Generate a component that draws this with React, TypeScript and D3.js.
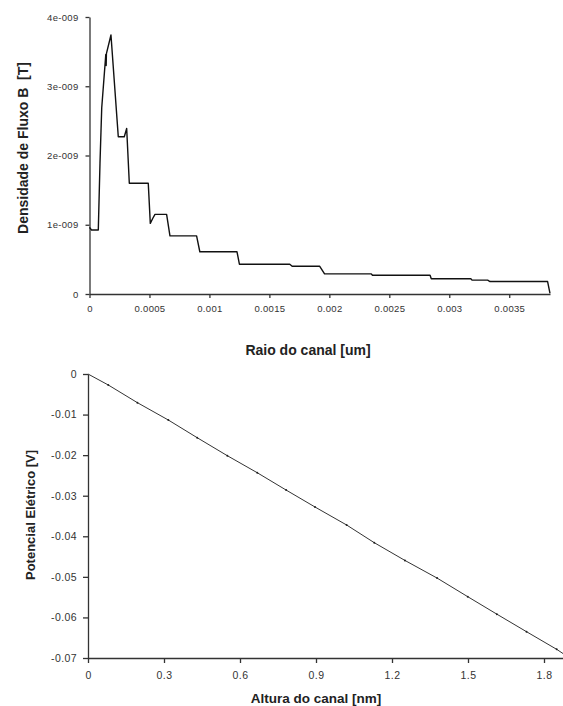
import React, { useEffect, useRef } from "react";
import * as d3 from "d3";

// top chart: flux density along the channel radius
const raio = [
  0, 0.0000167, 0.0000733, 0.0000875, 0.000102, 0.000136, 0.000139, 0.000141,
  0.000179, 0.00024, 0.00029, 0.00031, 0.000332, 0.00049, 0.000507, 0.000527,
  0.000546, 0.000643, 0.000671, 0.000893, 0.00092, 0.00123, 0.00125, 0.00167,
  0.00169, 0.00192, 0.00196, 0.00235, 0.00236, 0.00284, 0.00285, 0.00318,
  0.00319, 0.00332, 0.00334, 0.00382, 0.00384,
];
const fluxo = [
  0.963, 0.924, 0.924, 1.89, 2.69, 3.46, 3.3, 3.47, 3.74, 2.27, 2.27, 2.39,
  1.6, 1.6, 1.02, 1.09, 1.15, 1.15, 0.84, 0.84, 0.61, 0.61, 0.43, 0.43, 0.4,
  0.4, 0.29, 0.29, 0.27, 0.27, 0.22, 0.22, 0.2, 0.2, 0.18, 0.18, 0.01,
]; // x 1e-9 T
const fluxoTicks = [0, 1e-9, 2e-9, 3e-9, 4e-9];
const fluxoTickLabels = ["0", "1e-009", "2e-009", "3e-009", "4e-009"];
const raioTicks = [0, 0.0005, 0.001, 0.0015, 0.002, 0.0025, 0.003, 0.0035];
const raioTickLabels = ["0", "0.0005", "0.001", "0.0015", "0.002", "0.0025", "0.003", "0.0035"];

// bottom chart: electric potential along the channel height
const altura = [
  0, 0.08, 0.195, 0.317, 0.431, 0.55, 0.668, 0.782, 0.896, 1.021, 1.13, 1.251,
  1.378, 1.499, 1.614, 1.731, 1.85, 1.875,
];
const potencial = [
  0, -0.00271, -0.00707, -0.01134, -0.0157, -0.02014, -0.02433, -0.0286,
  -0.03278, -0.03722, -0.04158, -0.04595, -0.0503, -0.05489, -0.0592,
  -0.06352, -0.06786, -0.0689,
];
const potTicks = [0, -0.01, -0.02, -0.03, -0.04, -0.05, -0.06, -0.07];
const potTickLabels = ["0", "-0.01", "-0.02", "-0.03", "-0.04", "-0.05", "-0.06", "-0.07"];
const alturaTicks = [0, 0.3, 0.6, 0.9, 1.2, 1.5, 1.8];
const alturaTickLabels = ["0", "0.3", "0.6", "0.9", "1.2", "1.5", "1.8"];

const W = 563;
const H = 706;

const App = () => {
  const ref = useRef<SVGSVGElement>(null);

  useEffect(() => {
    const svg = d3.select(ref.current);
    svg.selectAll("*").remove();

    // ---------- top chart ----------
    const x1 = d3.scaleLinear().domain([0, 0.00384]).range([89.5, 550]);
    const y1 = d3.scaleLinear().domain([0, 4e-9]).range([294, 17]);

    const gx1 = svg
      .append("g")
      .attr("transform", `translate(0, ${y1(0)})`)
      .call(
        d3
          .axisBottom(x1)
          .tickValues(raioTicks)
          .tickSize(4)
          .tickSizeOuter(0)
          .tickFormat((d, i) => raioTickLabels[i])
      );
    gx1.selectAll("text").attr("dy", "1.2em");

    const gy1 = svg
      .append("g")
      .attr("transform", `translate(${x1(0)}, 0)`)
      .call(
        d3
          .axisLeft(y1)
          .tickValues(fluxoTicks)
          .tickSize(4)
          .tickSizeOuter(0)
          .tickFormat((d, i) => fluxoTickLabels[i])
      );
    gy1.selectAll("text").attr("x", -11);

    [gx1, gy1].forEach((g) => {
      g.selectAll("text")
        .attr("font-family", "'Liberation Sans', Arial, sans-serif")
        .attr("font-size", 9.5)
        .attr("letter-spacing", 0.3)
        .attr("fill", "#333");
      g.selectAll("line,path").attr("stroke", "#333").attr("stroke-width", 1.3);
    });

    const line1 = d3
      .line<number>()
      .x((d, i) => x1(raio[i]))
      .y((d) => y1(d * 1e-9));

    svg
      .append("path")
      .datum(fluxo)
      .attr("fill", "none")
      .attr("stroke", "#111")
      .attr("stroke-width", 1.4)
      .attr("stroke-linejoin", "round")
      .attr("d", line1);

    svg
      .append("text")
      .attr("transform", `translate(28, 148) rotate(-90)`)
      .attr("text-anchor", "middle")
      .attr("font-family", "'Liberation Sans', Arial, sans-serif")
      .attr("font-weight", "bold")
      .attr("font-size", 14)
      .attr("fill", "#222")
      .attr("xml:space", "preserve")
      .text("Densidade de Fluxo B  [T]");

    svg
      .append("text")
      .attr("x", 308)
      .attr("y", 355)
      .attr("text-anchor", "middle")
      .attr("font-family", "'Liberation Sans', Arial, sans-serif")
      .attr("font-weight", "bold")
      .attr("font-size", 14)
      .attr("fill", "#222")
      .text("Raio do canal [um]");

    // ---------- bottom chart ----------
    const x2 = d3.scaleLinear().domain([0, 1.875]).range([88, 563]);
    const y2 = d3.scaleLinear().domain([0, -0.07]).range([374, 658]);

    const gx2 = svg
      .append("g")
      .attr("transform", `translate(0, ${y2(-0.07)})`)
      .call(
        d3
          .axisBottom(x2)
          .tickValues(alturaTicks)
          .tickSize(5)
          .tickSizeOuter(0)
          .tickFormat((d, i) => alturaTickLabels[i])
      );
    gx2.selectAll("text").attr("dy", "1.25em");

    const gy2 = svg
      .append("g")
      .attr("transform", `translate(${x2(0)}, 0)`)
      .call(
        d3
          .axisLeft(y2)
          .tickValues(potTicks)
          .tickSize(5)
          .tickSizeOuter(0)
          .tickFormat((d, i) => potTickLabels[i])
      );
    gy2.selectAll("text").attr("x", -11);

    [gx2, gy2].forEach((g) => {
      g.selectAll("text")
        .attr("font-family", "'Liberation Sans', Arial, sans-serif")
        .attr("font-size", 10.5)
        .attr("letter-spacing", 0.4)
        .attr("fill", "#333");
      g.selectAll("line,path").attr("stroke", "#333").attr("stroke-width", 1.3);
    });

    const line2 = d3
      .line<number>()
      .x((d, i) => x2(altura[i]))
      .y((d) => y2(d));

    svg
      .append("path")
      .datum(potencial)
      .attr("fill", "none")
      .attr("stroke", "#333")
      .attr("stroke-width", 1)
      .attr("d", line2);

    svg
      .selectAll(".node")
      .data(potencial.slice(1, -1))
      .enter()
      .append("circle")
      .attr("cx", (d, i) => x2(altura[i + 1]))
      .attr("cy", (d) => y2(d))
      .attr("r", 1)
      .attr("fill", "#222");

    svg
      .append("text")
      .attr("transform", `translate(35, 515) rotate(-90)`)
      .attr("text-anchor", "middle")
      .attr("font-family", "'Liberation Sans', Arial, sans-serif")
      .attr("font-weight", "bold")
      .attr("font-size", 13)
      .attr("fill", "#222")
      .text("Potencial Elétrico [V]");

    svg
      .append("text")
      .attr("x", 316)
      .attr("y", 703)
      .attr("text-anchor", "middle")
      .attr("font-family", "'Liberation Sans', Arial, sans-serif")
      .attr("font-weight", "bold")
      .attr("font-size", 13.5)
      .attr("fill", "#222")
      .text("Altura do canal [nm]");
  }, []);

  return (
    <svg
      ref={ref}
      width={W}
      height={H}
      style={{ position: "absolute", left: 0, top: 0, background: "#fff" }}
    />
  );
};

export default App;
